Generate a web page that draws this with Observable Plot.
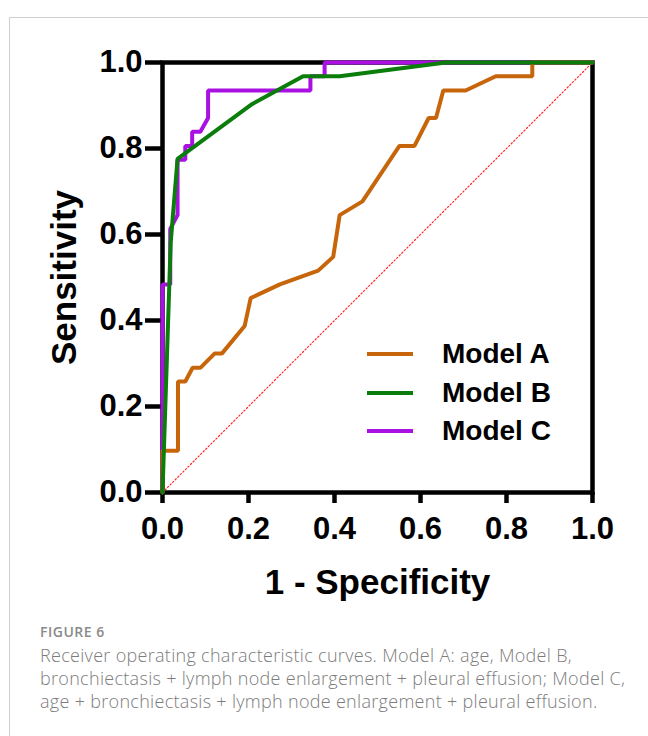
<!DOCTYPE html>
<html>
<head>
<meta charset="utf-8">
<script src="https://cdn.jsdelivr.net/npm/d3@7"></script>
<script src="https://cdn.jsdelivr.net/npm/@observablehq/plot@0.6"></script>
<style>
  html, body { margin: 0; padding: 0; background: #fff; overflow: hidden; }
  #fig { position: relative; width: 648px; height: 736px; }
  #chart { position: absolute; left: 0; top: 0; }
  #border { position: absolute; left: 9px; top: 17px; width: 700px; height: 800px;
            border-left: 1px solid #cfcfcf; border-top: 1px solid #cfcfcf; pointer-events: none; }
  #legend { position: absolute; left: 367px; top: 335px;
            font-family: "Liberation Sans", Arial, sans-serif; font-weight: bold; font-size: 28px; color: #000; }
  .row { display: flex; align-items: center; height: 38.5px; line-height: 38.5px; }
  .sw { width: 46px; height: 4px; margin-right: 29px; }
  #figlabel { position: absolute; left: 40px; top: 622px; font-family: "Open Sans", sans-serif;
              font-weight: 600; font-size: 14px; line-height: 20px; color: #8a8a8a; letter-spacing: 0.5px; }
  #caption { position: absolute; left: 40px; top: 643.5px; font-family: "Open Sans", sans-serif;
             font-weight: 300; font-size: 18px; line-height: 23px; color: #7c7c7c; white-space: nowrap;
             letter-spacing: 0.3px; }
</style>
</head>
<body>
<div id="fig">
  <div id="chart"></div>
  <div id="border"></div>
  <div id="legend"></div>
  <div id="figlabel">FIGURE 6</div>
  <div id="caption"></div>
</div>
<script>
// ---- Data ----
const models = ["Model A", "Model B", "Model C"];
const colors = ["#c7650b", "#0a7d0a", "#a911e2"];

const modelA_fpr = [0, 0, 0.036, 0.036, 0.053, 0.070, 0.088, 0.121, 0.138, 0.191, 0.205, 0.273, 0.362, 0.397, 0.412, 0.465, 0.551, 0.586, 0.619, 0.636, 0.653, 0.705, 0.775, 0.860, 0.860, 1];
const modelA_tpr = [0, 0.097, 0.097, 0.258, 0.258, 0.290, 0.290, 0.323, 0.323, 0.387, 0.452, 0.484, 0.516, 0.548, 0.645, 0.677, 0.806, 0.806, 0.871, 0.871, 0.935, 0.935, 0.968, 0.968, 1, 1];

const modelB_fpr = [0, 0.019, 0.035, 0.208, 0.327, 0.412, 0.659, 1];
const modelB_tpr = [0, 0.58, 0.776, 0.903, 0.968, 0.968, 1, 1];

const modelC_fpr = [0, 0, 0.018, 0.018, 0.035, 0.035, 0.053, 0.053, 0.069, 0.069, 0.088, 0.106, 0.106, 0.344, 0.344, 0.377, 0.377, 1];
const modelC_tpr = [0, 0.484, 0.484, 0.613, 0.645, 0.774, 0.774, 0.806, 0.806, 0.839, 0.839, 0.871, 0.935, 0.935, 0.968, 0.968, 1, 1];

const refLine = [0, 1];
const xTicks = [0, 0.2, 0.4, 0.6, 0.8, 1.0];
const yTicks = [0, 0.2, 0.4, 0.6, 0.8, 1.0];
const xLabel = "1 - Specificity";
const yLabel = "Sensitivity";
const captionLines = [
  "Receiver operating characteristic curves. Model A: age, Model B,",
  "bronchiectasis + lymph node enlargement + pleural effusion; Model C,",
  "age + bronchiectasis + lymph node enlargement + pleural effusion."
];

// ---- Build tables ----
const toRows = (fpr, tpr) => fpr.map((x, i) => ({x, y: tpr[i]}));
const rowsA = toRows(modelA_fpr, modelA_tpr);
const rowsB = toRows(modelB_fpr, modelB_tpr);
const rowsC = toRows(modelC_fpr, modelC_tpr);
const diag = refLine.map(v => ({x: v, y: v}));

const chart = Plot.plot({
  width: 648,
  height: 610,
  marginLeft: 162,
  marginRight: 56,
  marginTop: 62,
  marginBottom: 118,
  x: {domain: [0, 1]},
  y: {domain: [0, 1]},
  style: {
    fontFamily: "'Liberation Sans', Arial, sans-serif",
    fontWeight: "bold",
    fontSize: "31px",
    color: "#000",
    background: "transparent",
    overflow: "visible"
  },
  marks: [
    Plot.frame({stroke: "#000", strokeWidth: 4.5}),
    Plot.axisX({ticks: xTicks, tickFormat: d3.format(".1f"), tickSize: 11, tickPadding: 13,
                strokeWidth: 4.5, label: null, fontSize: 31}),
    Plot.axisY({ticks: yTicks, tickFormat: d3.format(".1f"), tickSize: 17, tickPadding: 3,
                strokeWidth: 4.5, label: null, fontSize: 31}),
    Plot.line(diag, {x: "x", y: "y", stroke: "#ff2a2a", strokeWidth: 1.2, strokeDasharray: "1.4,2.2"}),
    Plot.line(rowsC, {x: "x", y: "y", stroke: colors[2], strokeWidth: 4, strokeLinejoin: "miter"}),
    Plot.line(rowsA, {x: "x", y: "y", stroke: colors[0], strokeWidth: 4, strokeLinejoin: "miter"}),
    Plot.line(rowsB, {x: "x", y: "y", stroke: colors[1], strokeWidth: 4, strokeLinejoin: "miter"}),
    Plot.text([yLabel], {text: d => d, frameAnchor: "left", textAnchor: "middle", lineAnchor: "middle",
                         dx: -98, rotate: -90, fontSize: 35, fontWeight: "bold", fill: "#000"}),
    Plot.text([xLabel], {text: d => d, frameAnchor: "bottom", textAnchor: "middle", lineAnchor: "middle",
                         dy: 90, fontSize: 35, fontWeight: "bold", fill: "#000"})
  ]
});
document.getElementById("chart").appendChild(chart);

// ---- Legend ----
const legend = document.getElementById("legend");
models.forEach((m, i) => {
  const row = document.createElement("div");
  row.className = "row";
  const sw = document.createElement("div");
  sw.className = "sw";
  sw.style.background = colors[i];
  const lab = document.createElement("span");
  lab.textContent = m;
  row.appendChild(sw);
  row.appendChild(lab);
  legend.appendChild(row);
});

// ---- Caption ----
document.getElementById("caption").innerHTML = captionLines.join("<br>");
</script>
</body>
</html>
